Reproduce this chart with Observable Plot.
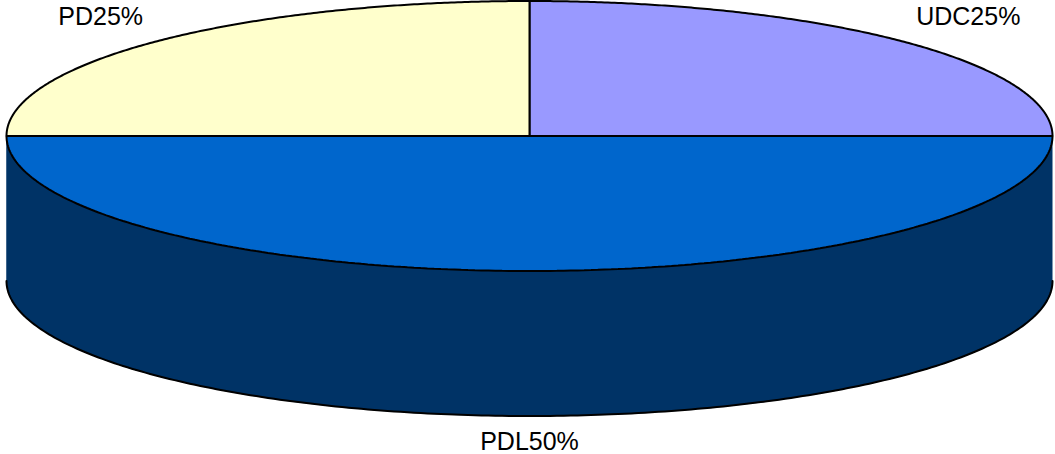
<!DOCTYPE html>
<html>
<head>
<meta charset="utf-8">
<script src="https://cdn.jsdelivr.net/npm/d3@7"></script>
<script src="https://cdn.jsdelivr.net/npm/@observablehq/plot@0.6"></script>
<style>
  html, body { margin: 0; padding: 0; background: #fff; }
  #chart svg { display: block; }
</style>
</head>
<body>
<div id="chart"></div>
<script>
// ---- data ----
const categories = ["UDC", "PDL", "PD"];
const shares = [25, 50, 25];
const sliceColors = ["#9999FF", "#0066CC", "#FFFFCC"];
const wallColor = "#003366";
const labelText = ["UDC25%", "PDL50%", "PD25%"];
// label positions (layout, in chart units)
const labelX = [0.839, 0.0, -0.820];
const labelY = [-0.878, 2.270, -0.878];

// ---- geometry (chart units: ellipse radius 1 in both axes) ----
const depth = 145 / 135;
const N = 240;
const total = d3.sum(shares);
let start = -Math.PI / 2;
const slices = shares.map((v, i) => {
  const a0 = start, a1 = start + (v / total) * 2 * Math.PI;
  start = a1;
  const pts = [{x: 0, y: 0}];
  for (let k = 0; k <= N; k++) {
    const a = a0 + (a1 - a0) * k / N;
    pts.push({x: Math.cos(a), y: Math.sin(a)});
  }
  pts.push({x: 0, y: 0});
  return {name: categories[i], color: sliceColors[i], pts};
});

// front wall (visible between angle 0 and PI)
const wall = [];
for (let k = 0; k <= N; k++) {
  const a = Math.PI * k / N;
  wall.push({x: Math.cos(a), y: Math.sin(a)});
}
const bottomArc = [];
for (let k = N; k >= 0; k--) {
  const a = Math.PI * k / N;
  bottomArc.push({x: Math.cos(a), y: Math.sin(a) + depth});
}
const wallPoly = wall.concat(bottomArc.slice().reverse().reverse());

const labels = labelText.map((t, i) => ({t, x: labelX[i], y: labelY[i]}));

const marks = [
  Plot.line(wallPoly, {x: "x", y: "y", fill: wallColor, stroke: wallColor, strokeWidth: 0.5, curve: "linear"}),
  Plot.line(bottomArc, {x: "x", y: "y", stroke: "#000", strokeWidth: 2, curve: "linear"}),
  ...slices.map(s => Plot.line(s.pts, {x: "x", y: "y", fill: s.color, stroke: "#000", strokeWidth: 2, strokeLinejoin: "miter", curve: "linear"})),
  Plot.text(labels, {x: "x", y: "y", text: "t", fontSize: 25, fill: "#000", textAnchor: "middle", lineAnchor: "middle"})
];

const chart = Plot.plot({
  width: 1055,
  height: 454,
  marginTop: 0, marginRight: 0, marginBottom: 0, marginLeft: 0,
  style: {fontFamily: "'Liberation Sans', Arial, sans-serif", background: "#fff"},
  x: {type: "linear", domain: [-1, 1], range: [6, 1052], axis: null},
  y: {type: "linear", domain: [-1, 1], range: [0.5, 270.5], axis: null},
  marks
});
document.getElementById("chart").appendChild(chart);
</script>
</body>
</html>
